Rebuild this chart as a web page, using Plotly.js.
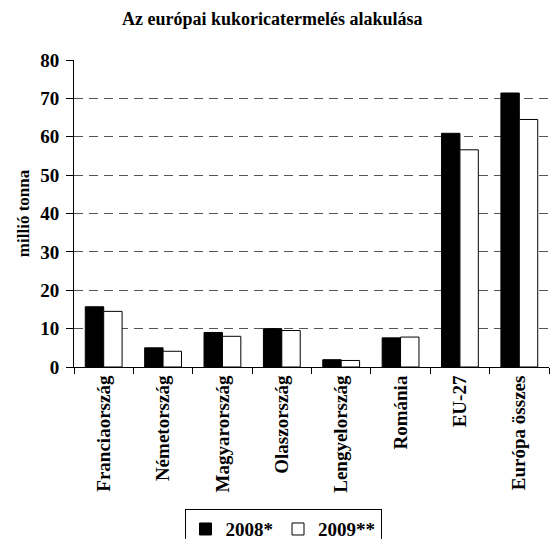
<!DOCTYPE html>
<html>
<head>
<meta charset="utf-8">
<script src="https://cdn.plot.ly/plotly-3.0.1.min.js"></script>
<style>html,body{margin:0;padding:0;background:#fff;}#chart{width:550px;height:539px;}</style>
</head>
<body>
<div id="chart"></div>
<script>
const categories = ["Franciaország","Németország","Magyarország","Olaszország","Lengyelország","Románia","EU-27","Európa összes"];
const values2008 = [15.7, 5.0, 9.0, 10.0, 1.9, 7.6, 60.9, 71.4];
const values2009 = [14.5, 4.1, 8.0, 9.5, 1.7, 7.8, 56.6, 64.5];
const seriesNames = ["2008*", "2009**"];
const yTicks = [0, 10, 20, 30, 40, 50, 60, 70, 80];

const FONT = "Liberation Serif";

const data = [
  {type: "bar", name: seriesNames[0], x: categories, y: values2008,
   marker: {color: "#000000", line: {color: "#000000", width: 1}}},
  {type: "bar", name: seriesNames[1], x: categories, y: values2009,
   marker: {color: "#ffffff", line: {color: "#000000", width: 1}}}
];

const layout = {
  width: 550, height: 539,
  paper_bgcolor: "#ffffff", plot_bgcolor: "#ffffff",
  margin: {l: 74, r: 1, t: 60, b: 172, autoexpand: false},
  font: {family: FONT, color: "#000", size: 19, weight: "bold"},
  title: {text: "<b>Az európai kukoricatermelés alakulása</b>", x: 0.495, xanchor: "center", y: 0.966, yanchor: "middle",
          font: {family: FONT, size: 18, color: "#000", weight: "bold"}},
  barmode: "group", bargap: 0.38, bargroupgap: 0,
  xaxis: {
    type: "category", tickangle: -90, tickson: "boundaries",
    ticks: "outside", ticklen: 6, tickcolor: "#000", tickwidth: 1,
    showline: true, linecolor: "#000", linewidth: 1, showgrid: false,
    tickfont: {family: FONT, size: 19, color: "#000", weight: "bold"},
    automargin: false
  },
  yaxis: {
    range: [0, 80], tickvals: yTicks, ticktext: yTicks.map(String),
    ticks: "outside", ticklen: 7, tickcolor: "#000",
    showline: true, linecolor: "#000", linewidth: 1,
    showgrid: true, gridcolor: "#555", griddash: "9px,6px", gridwidth: 1,
    zeroline: false,
    tickfont: {family: FONT, size: 19, color: "#000", weight: "bold"},
    ticklabelstandoff: 3,
    title: {text: "<b>millió tonna</b>", font: {family: FONT, size: 17, color: "#000", weight: "bold"}, standoff: 6},
    automargin: false
  },
  legend: {
    orientation: "h", x: 0.44, xanchor: "center", y: -0.463, yanchor: "top",
    bordercolor: "#000", borderwidth: 1, bgcolor: "#fff",
    font: {family: FONT, size: 19, color: "#000", weight: "bold"},
    itemwidth: 30, tracegroupgap: 0
  },
  showlegend: true
};

Plotly.newPlot("chart", data, layout, {displayModeBar: false, staticPlot: true});
</script>
</body>
</html>
